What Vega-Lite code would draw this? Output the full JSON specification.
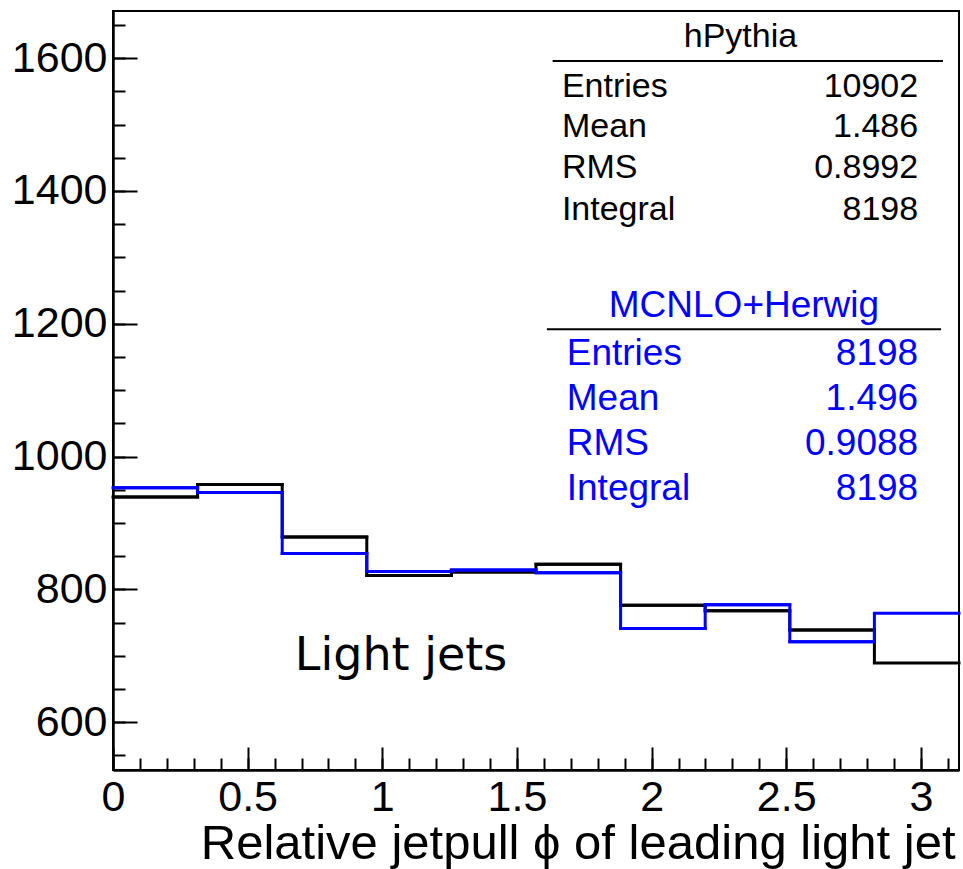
{
  "$schema": "https://vega.github.io/schema/vega-lite/v6.json",
  "width": 846,
  "height": 759,
  "autosize": "none",
  "padding": {"left": 113, "top": 11, "right": 4, "bottom": 99},
  "background": "white",
  "config": {
    "view": {"stroke": "black", "strokeWidth": 2},
    "font": "Liberation Sans",
    "axis": {"grid": false, "labelColor": "black", "titleColor": "black", "tickColor": "black", "domainColor": "black"}
  },
  "datasets": {
    "hist": [
      {"series": "hPythia", "x0": 0.0, "x1": 0.31416, "count": 939},
      {"series": "hPythia", "x0": 0.31416, "x1": 0.62832, "count": 958},
      {"series": "hPythia", "x0": 0.62832, "x1": 0.94248, "count": 879},
      {"series": "hPythia", "x0": 0.94248, "x1": 1.25664, "count": 821},
      {"series": "hPythia", "x0": 1.25664, "x1": 1.5708, "count": 826},
      {"series": "hPythia", "x0": 1.5708, "x1": 1.88496, "count": 838},
      {"series": "hPythia", "x0": 1.88496, "x1": 2.19911, "count": 776},
      {"series": "hPythia", "x0": 2.19911, "x1": 2.51327, "count": 768},
      {"series": "hPythia", "x0": 2.51327, "x1": 2.82743, "count": 739},
      {"series": "hPythia", "x0": 2.82743, "x1": 3.14159, "count": 689},
      {"series": "MCNLO+Herwig", "x0": 0.0, "x1": 0.31416, "count": 953},
      {"series": "MCNLO+Herwig", "x0": 0.31416, "x1": 0.62832, "count": 946},
      {"series": "MCNLO+Herwig", "x0": 0.62832, "x1": 0.94248, "count": 854},
      {"series": "MCNLO+Herwig", "x0": 0.94248, "x1": 1.25664, "count": 827},
      {"series": "MCNLO+Herwig", "x0": 1.25664, "x1": 1.5708, "count": 829},
      {"series": "MCNLO+Herwig", "x0": 1.5708, "x1": 1.88496, "count": 825},
      {"series": "MCNLO+Herwig", "x0": 1.88496, "x1": 2.19911, "count": 741},
      {"series": "MCNLO+Herwig", "x0": 2.19911, "x1": 2.51327, "count": 777},
      {"series": "MCNLO+Herwig", "x0": 2.51327, "x1": 2.82743, "count": 721},
      {"series": "MCNLO+Herwig", "x0": 2.82743, "x1": 3.14159, "count": 764}
    ],
    "boxlines": [
      {"box": "hPythia", "x": 1.6326, "x2": 3.082, "y": 1595.7},
      {"box": "MCNLO+Herwig", "x": 1.6112, "x2": 3.075, "y": 1191.6}
    ],
    "headers": [
      {"box": "hPythia", "text": "hPythia", "x": 2.330, "y": 1617.2},
      {"box": "MCNLO+Herwig", "text": "MCNLO+Herwig", "x": 2.343, "y": 1210.6}
    ],
    "stats": [
      {"box": "hPythia", "label": "Entries", "value": "10902", "xl": 1.667, "xr": 2.990, "y": 1541.5},
      {"box": "hPythia", "label": "Mean", "value": "1.486", "xl": 1.667, "xr": 2.990, "y": 1481.2},
      {"box": "hPythia", "label": "RMS", "value": "0.8992", "xl": 1.667, "xr": 2.990, "y": 1419.5},
      {"box": "hPythia", "label": "Integral", "value": "8198", "xl": 1.667, "xr": 2.990, "y": 1356.2},
      {"box": "MCNLO+Herwig", "label": "Entries", "value": "8198", "xl": 1.685, "xr": 2.990, "y": 1137.9},
      {"box": "MCNLO+Herwig", "label": "Mean", "value": "1.496", "xl": 1.685, "xr": 2.990, "y": 1070.1},
      {"box": "MCNLO+Herwig", "label": "RMS", "value": "0.9088", "xl": 1.685, "xr": 2.990, "y": 1002.3},
      {"box": "MCNLO+Herwig", "label": "Integral", "value": "8198", "xl": 1.685, "xr": 2.990, "y": 934.6}
    ],
    "note": [
      {"text": "Light jets", "x": 0.675, "y": 678.5}
    ]
  },
  "resolve": {"axis": {"x": "independent", "y": "independent"}},
  "layer": [
    {
      "data": {"name": "hist"},
      "transform": [{"filter": "datum.series === 'hPythia'"}],
      "mark": {"type": "line", "interpolate": "step-after", "color": "black", "strokeWidth": 3, "clip": true},
      "encoding": {
        "x": {
          "field": "x0", "type": "quantitative",
          "scale": {"domain": [0, 3.14159], "nice": false, "zero": false},
          "axis": {
            "orient": "bottom",
            "values": [0, 0.5, 1, 1.5, 2, 2.5, 3],
            "format": "~g",
            "ticks": false,
            "labelFontSize": 43,
            "labelPadding": 6,
            "labelFlush": false,
            "domainWidth": 2.5,
            "title": "Relative jetpull ϕ of leading light jet",
            "titleFontSize": 49,
            "titleFontWeight": "normal",
            "titleAnchor": "end",
            "titleAlign": "right",
            "titleBaseline": "alphabetic",
            "titleX": 842,
            "titleY": 88
          }
        },
        "y": {
          "field": "count", "type": "quantitative",
          "scale": {"domain": [528, 1671], "nice": false, "zero": false},
          "axis": {
            "orient": "left",
            "values": [600, 800, 1000, 1200, 1400, 1600],
            "format": "d",
            "ticks": false,
            "labelFontSize": 43,
            "labelPadding": 6,
            "labelFlush": false,
            "domainWidth": 2.5,
            "title": null
          }
        }
      }
    },
    {
      "data": {"name": "hist"},
      "transform": [{"filter": "datum.series === 'hPythia'"}],
      "mark": {"type": "rule", "color": "black", "strokeWidth": 3, "strokeCap": "square"},
      "encoding": {
        "x": {"field": "x0", "type": "quantitative", "axis": null},
        "x2": {"field": "x1"},
        "y": {"field": "count", "type": "quantitative", "axis": null}
      }
    },
    {
      "data": {"name": "hist"},
      "transform": [{"filter": "datum.series === 'MCNLO+Herwig'"}],
      "mark": {"type": "line", "interpolate": "step-after", "color": "#0000ff", "strokeWidth": 3},
      "encoding": {
        "x": {"field": "x0", "type": "quantitative", "axis": null},
        "y": {"field": "count", "type": "quantitative", "axis": null}
      }
    },
    {
      "data": {"name": "hist"},
      "transform": [{"filter": "datum.series === 'MCNLO+Herwig'"}],
      "mark": {"type": "rule", "color": "#0000ff", "strokeWidth": 3, "strokeCap": "square"},
      "encoding": {
        "x": {"field": "x0", "type": "quantitative", "axis": null},
        "x2": {"field": "x1"},
        "y": {"field": "count", "type": "quantitative", "axis": null}
      }
    },
    {
      "data": {"name": "boxlines"},
      "mark": {"type": "rule", "color": "black", "strokeWidth": 2},
      "encoding": {
        "x": {
          "field": "x", "type": "quantitative",
          "axis": {"orient": "bottom", "values": [0, 0.5, 1, 1.5, 2, 2.5, 3], "labels": false, "domain": false, "tickSize": -23, "tickWidth": 2, "title": null}
        },
        "x2": {"field": "x2"},
        "y": {
          "field": "y", "type": "quantitative",
          "axis": {"orient": "left", "values": [600, 800, 1000, 1200, 1400, 1600], "labels": false, "domain": false, "tickSize": -24, "tickWidth": 2, "title": null}
        }
      }
    },
    {
      "data": {"name": "stats"},
      "mark": {"type": "text", "align": "left", "baseline": "alphabetic", "font": "Liberation Sans"},
      "encoding": {
        "x": {
          "field": "xl", "type": "quantitative",
          "axis": {"orient": "bottom", "values": [0, 0.1, 0.2, 0.3, 0.4, 0.5, 0.6, 0.7, 0.8, 0.9, 1, 1.1, 1.2, 1.3, 1.4, 1.5, 1.6, 1.7, 1.8, 1.9, 2, 2.1, 2.2, 2.3, 2.4, 2.5, 2.6, 2.7, 2.8, 2.9, 3, 3.1], "labels": false, "domain": false, "tickSize": -12, "tickWidth": 2, "title": null}
        },
        "y": {
          "field": "y", "type": "quantitative",
          "axis": {"orient": "left", "values": [550, 600, 650, 700, 750, 800, 850, 900, 950, 1000, 1050, 1100, 1150, 1200, 1250, 1300, 1350, 1400, 1450, 1500, 1550, 1600, 1650], "labels": false, "domain": false, "tickSize": -12, "tickWidth": 2, "title": null}
        },
        "text": {"field": "label"},
        "color": {"field": "box", "type": "nominal", "scale": {"domain": ["hPythia", "MCNLO+Herwig"], "range": ["black", "#0000ff"]}, "legend": null},
        "size": {"field": "box", "type": "ordinal", "scale": {"domain": ["hPythia", "MCNLO+Herwig"], "range": [34, 37]}, "legend": null}
      }
    },
    {
      "data": {"name": "stats"},
      "mark": {"type": "text", "align": "right", "baseline": "alphabetic", "font": "Liberation Sans"},
      "encoding": {
        "x": {"field": "xr", "type": "quantitative", "axis": null},
        "y": {"field": "y", "type": "quantitative", "axis": null},
        "text": {"field": "value"},
        "color": {"field": "box", "type": "nominal", "legend": null},
        "size": {"field": "box", "type": "ordinal", "legend": null}
      }
    },
    {
      "data": {"name": "headers"},
      "mark": {"type": "text", "align": "center", "baseline": "alphabetic", "font": "Liberation Sans"},
      "encoding": {
        "x": {"field": "x", "type": "quantitative", "axis": null},
        "y": {"field": "y", "type": "quantitative", "axis": null},
        "text": {"field": "text"},
        "color": {"field": "box", "type": "nominal", "legend": null},
        "size": {"field": "box", "type": "ordinal", "legend": null}
      }
    },
    {
      "data": {"name": "note"},
      "mark": {"type": "text", "align": "left", "baseline": "alphabetic", "font": "DejaVu Sans", "fontSize": 46, "color": "black"},
      "encoding": {
        "x": {"field": "x", "type": "quantitative", "axis": null},
        "y": {"field": "y", "type": "quantitative", "axis": null},
        "text": {"field": "text"}
      }
    }
  ]
}
